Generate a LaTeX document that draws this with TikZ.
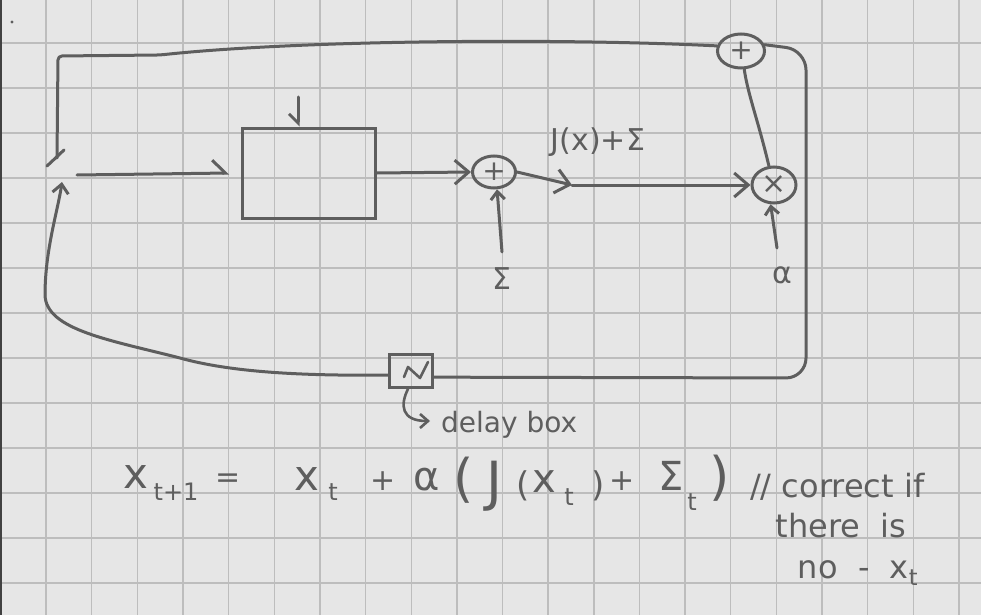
\documentclass[tikz,border=0pt]{standalone}
\usepackage{fontspec}
\newfontfamily\hand{DejaVu Sans}
\usetikzlibrary{arrows.meta,shapes.geometric}
\definecolor{ink}{HTML}{5E5E5E}
\definecolor{paper}{HTML}{E6E6E6}
\definecolor{gridc}{HTML}{BDBDBD}
\newcommand{\fs}[1]{\hand\fontsize{#1}{#1}\selectfont}
\begin{document}
\begin{tikzpicture}[x=1pt,y=-1pt,
  inkln/.style={draw=ink,line width=3pt,line cap=round,line join=round},
  opnode/.style={ellipse,draw=ink,line width=3pt,inner sep=0pt,text=ink},
  bigbarb/.style={-{Straight Barb[length=14pt,width=24pt]}},
  smallbarb/.style={-{Straight Barb[length=8pt,width=14pt]}},
  tx/.style={anchor=base,inner sep=0pt,text=ink},
  hw/.style={anchor=base,inner sep=0pt,text=ink,font=\fs{32}},
]
% paper and grid
\fill[paper] (0,0) rectangle (981,615);
\useasboundingbox (0,0) rectangle (981,615);
\foreach \k in {0,...,20} \draw[gridc,line width=1.4pt] ({46+45.65*\k},0) -- ({46+45.65*\k},615);
\foreach \k in {0,...,12} \draw[gridc,line width=1.4pt] (0,{43+45*\k}) -- (981,{43+45*\k});
\draw[ink!70!black,line width=2pt] (1,0) -- (1,615);
\fill[ink] (12,22) circle (1.6pt);

% blocks
\node[rectangle,draw=ink,line width=3pt,minimum width=133pt,minimum height=90pt] (fbox) at (309,173) {};
\node[opnode,minimum width=43pt,minimum height=32pt,font=\fs{28}] (sum1) at (494,172) {+};
\node[opnode,minimum width=44pt,minimum height=36pt,font=\fs{30}] (mul) at (774,185) {×};
\node[opnode,minimum width=47pt,minimum height=34pt,font=\fs{28}] (sum2) at (741,51) {+};
\node[rectangle,draw=ink,line width=3pt,minimum width=43pt,minimum height=33pt] (delay) at (411,371) {};
\draw[inkln,line width=2.6pt] (404,377) -- (408,367) -- (420,378) -- (428,362);

% free ends
\coordinate (jn) at (57,158);
\coordinate (inStart) at (77,175);
\coordinate (topIn) at (298,97);
\coordinate (mid) at (572,185);
\coordinate (epsIn) at (502,252);
\coordinate (alphaIn) at (777,248);
\coordinate (upTip) at (62,182);
\coordinate (hookEnd) at (430,421);

% top feedback line from sum2 to the junction
\draw[inkln,rounded corners=4pt] (sum2.168) .. controls (560,38) and (300,40) .. (160,55) -- (58,56) -- (jn);
\draw[inkln] (47,166) -- (64,150);

% forward path
\draw[inkln,-{Straight Barb[left,length=13pt,width=26pt]}] (inStart) -- ([xshift=-12pt]fbox.west);
\draw[inkln,-{Straight Barb[right,length=9pt,width=18pt]}] (topIn) -- (topIn |- fbox.north);
\draw[inkln,bigbarb] (fbox.east) -- (sum1.west);
\draw[inkln,bigbarb] (sum1.east) -- (mid);
\draw[inkln,bigbarb] (mid) -- (mul.west);
\draw[inkln,smallbarb] (epsIn) -- (sum1.-80);
\draw[inkln,smallbarb] (alphaIn) -- (mul.-100);
\draw[inkln] (mul.105) .. controls (758,120) and (748,95) .. (sum2.-80);

% outer loop through the delay box
\draw[inkln,rounded corners=20pt] (sum2.15) -- (806,50) -- (806,378) -- (delay.-15);
\draw[inkln,-{Straight Barb[length=9pt,width=16pt]}] (delay.190) .. controls (300,376) and (230,372) .. (180,358) .. controls (110,340) and (46,330) .. (45,295) .. controls (45,250) and (58,210) .. (upTip);

% delay label
\draw[inkln,line width=2.6pt,-{Straight Barb[length=8pt,width=14pt]}] (408,389) .. controls (400,405) and (401,421) .. (hookEnd);
\node[hw,anchor=base west,font=\fs{28}] (dlab) at (441,432) {delay box};

% labels
\node[tx,font=\fs{30}] (fxlab) at (598,150) {J(x)+Σ};
\node[tx,font=\fs{30}] (epslab) at (502,289) {Σ};
\node[tx,font=\fs{30}] (alab) at (782,283) {α};

% equation
\node[tx,font=\fs{42}] (e1) at (136,488) {x};
\node[tx,font=\fs{24}] (e2) at (176,500) {t+1};
\node[tx,font=\fs{30}] (e3) at (228,487) {=};
\node[tx,font=\fs{42}] (e4) at (307,490) {x};
\node[tx,font=\fs{24}] (e5) at (333,500) {t};
\node[tx,font=\fs{30}] (e6) at (383,490) {+};
\node[tx,font=\fs{40}] (e7) at (427,490) {α};
\node[tx,font=\fs{52}] (e8) at (464,496) {(};
\node[tx,font=\fs{54}] (e9) at (494,500) {J};
\node[tx,font=\fs{34}] (e10) at (523,496) {(};
\node[tx,font=\fs{40}] (e11) at (544,492) {x};
\node[tx,font=\fs{24}] (e12) at (569,505) {t};
\node[tx,font=\fs{34}] (e13) at (598,496) {)};
\node[tx,font=\fs{30}] (e14) at (622,490) {+};
\node[tx,font=\fs{40}] (e15) at (671,490) {Σ};
\node[tx,font=\fs{24}] (e16) at (692,510) {t};
\node[tx,font=\fs{52}] (e17) at (720,494) {)};

% comment
\node[hw,anchor=base west] (c1) at (750,497) {// correct if};
\node[hw] (c2) at (841,537) {there\ \ is};
\node[hw] (c3) at (858,578) {no\ \ -\ \ x\textsubscript{t}};
\end{tikzpicture}
\end{document}
